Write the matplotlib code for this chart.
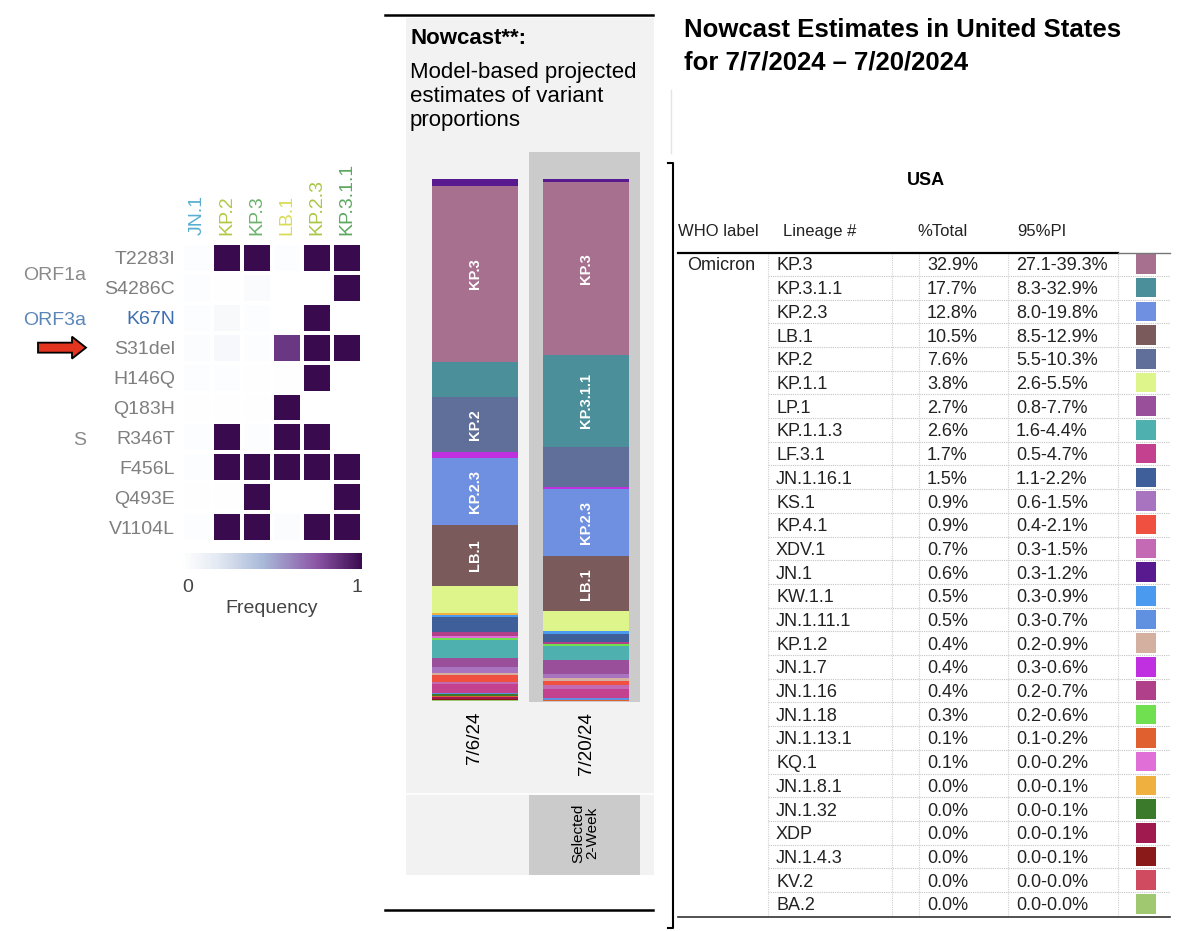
import matplotlib
matplotlib.use('Agg')
import matplotlib.pyplot as plt
import numpy as np
from matplotlib.colors import LinearSegmentedColormap
from matplotlib.patches import Rectangle, FancyArrow
from matplotlib.transforms import IdentityTransform, blended_transform_factory

plt.rcParams['font.family'] = ['Liberation Sans', 'DejaVu Sans']

W, H = 1200, 931

# ---- heatmap data (mutation frequency per lineage)
variants = ["JN.1", "KP.2", "KP.3", "LB.1", "KP.2.3", "KP.3.1.1"]
variant_colors = ["#5aaed0", "#b3c843", "#6bb36b", "#d8dc55", "#a9c745", "#5da860"]
mutations = ["T2283I", "S4286C", "K67N", "S31del", "H146Q",
             "Q183H", "R346T", "F456L", "Q493E", "V1104L"]
mutation_colors = ["#7f7f7f", "#7f7f7f", "#3d6fb0", "#7f7f7f", "#7f7f7f",
                   "#7f7f7f", "#7f7f7f", "#7f7f7f", "#7f7f7f", "#7f7f7f"]
freq = np.array([
    [0.02, 1.00, 1.00, 0.02, 1.00, 1.00],
    [0.02, 0.01, 0.04, 0.00, 0.00, 1.00],
    [0.02, 0.06, 0.02, 0.00, 1.00, 0.00],
    [0.03, 0.07, 0.02, 0.85, 1.00, 1.00],
    [0.02, 0.02, 0.01, 0.01, 1.00, 0.00],
    [0.01, 0.01, 0.01, 1.00, 0.00, 0.00],
    [0.02, 1.00, 0.02, 1.00, 1.00, 0.00],
    [0.02, 1.00, 1.00, 1.00, 1.00, 1.00],
    [0.01, 0.01, 1.00, 0.00, 0.00, 1.00],
    [0.02, 1.00, 1.00, 0.03, 1.00, 1.00],
])
genes = ["ORF1a", "ORF3a", "S"]
gene_first = [0, 2, 3]
gene_last = [1, 2, 9]
gene_colors = ["#8a8a8a", "#5a86b8", "#8a8a8a"]
highlight_mutation = "S31del"

# ---- nowcast table (7/7/2024 - 7/20/2024)
lineages = ["KP.3", "KP.3.1.1", "KP.2.3", "LB.1", "KP.2", "KP.1.1", "LP.1",
            "KP.1.1.3", "LF.3.1", "JN.1.16.1", "KS.1", "KP.4.1", "XDV.1", "JN.1",
            "KW.1.1", "JN.1.11.1", "KP.1.2", "JN.1.7", "JN.1.16", "JN.1.18",
            "JN.1.13.1", "KQ.1", "JN.1.8.1", "JN.1.32", "XDP", "JN.1.4.3", "KV.2", "BA.2"]
pct_total = [32.9, 17.7, 12.8, 10.5, 7.6, 3.8, 2.7, 2.6, 1.7, 1.5, 0.9, 0.9, 0.7, 0.6,
             0.5, 0.5, 0.4, 0.4, 0.4, 0.3, 0.1, 0.1, 0.0, 0.0, 0.0, 0.0, 0.0, 0.0]
pi_low = [27.1, 8.3, 8.0, 8.5, 5.5, 2.6, 0.8, 1.6, 0.5, 1.1, 0.6, 0.4, 0.3, 0.3,
          0.3, 0.3, 0.2, 0.3, 0.2, 0.2, 0.1, 0.0, 0.0, 0.0, 0.0, 0.0, 0.0, 0.0]
pi_high = [39.3, 32.9, 19.8, 12.9, 10.3, 5.5, 7.7, 4.4, 4.7, 2.2, 1.5, 2.1, 1.5, 1.2,
           0.9, 0.7, 0.9, 0.6, 0.7, 0.6, 0.2, 0.2, 0.1, 0.1, 0.1, 0.1, 0.0, 0.0]
lineage_colors = ["#a8708f", "#4a8f99", "#6f8fe0", "#7a5a5a", "#5f6f9a", "#ddf58a",
                  "#9a4f9a", "#4fb0b0", "#c4418f", "#3f5f9a", "#a873bf", "#ef5040",
                  "#c46ab4", "#5a1a8f", "#4a9af0", "#6090e0", "#d4b0a0", "#c030e0",
                  "#b0408a", "#70e050", "#e06030", "#e070d8", "#f0b040", "#3a7a2a",
                  "#a01a50", "#8a1a1a", "#d04a60", "#a0c870"]

# ---- stacked bars: order of segments top -> bottom, 7/6/24 shares estimated
stack_order = ["JN.1", "KP.3", "KP.3.1.1", "KP.2", "JN.1.7", "KP.2.3", "LB.1", "KP.1.1",
               "JN.1.8.1", "KW.1.1", "JN.1.16.1", "JN.1.16", "KQ.1", "JN.1.18",
               "KP.1.1.3", "LP.1", "KS.1", "KP.1.2", "KP.4.1", "XDV.1", "LF.3.1",
               "JN.1.11.1", "JN.1.32", "JN.1.13.1", "XDP", "JN.1.4.3", "KV.2", "BA.2"]
prev_share = [1.3, 33.8, 6.7, 10.5, 1.1, 12.8, 11.7, 5.2,
              0.4, 0.4, 2.9, 0.8, 0.4, 0.4,
              3.3, 1.7, 1.3, 0.3, 1.3, 0.4, 1.7,
              0.3, 0.3, 0.2, 0.4, 0.2, 0.1, 0.1]
dates = ["7/6/24", "7/20/24"]
label_min = 9.0


def px(x0, y0, x1, y1):
    return [x0 / W, 1 - y1 / H, (x1 - x0) / W, (y1 - y0) / H]


fig = plt.figure(figsize=(12, 9.31), dpi=100)

# page-level axes in pixel units (backgrounds, rules, table)
page = fig.add_axes([0, 0, 1, 1])
page.set_xlim(0, W)
page.set_ylim(H, 0)
page.axis('off')

# nowcast panel background
page.add_patch(Rectangle((406, 18), 248, 857, color="#f2f2f2", lw=0))
page.add_patch(Rectangle((529, 152), 111, 550, color="#cbcbcb", lw=0))
page.add_patch(Rectangle((529, 795), 111, 80, color="#cbcbcb", lw=0))
page.plot([406, 654], [794, 794], color="white", lw=1.2)
page.plot([385, 653], [15, 15], color="black", lw=1.8)
page.plot([385, 653], [910, 910], color="black", lw=1.8)
page.text(410, 28, "Nowcast**:", fontsize=16, fontweight='bold', va='top')
page.text(410, 62, "Model-based projected\nestimates of variant\nproportions",
          fontsize=16, va='top', linespacing=1.2)
page.text(585, 833, "Selected\n2-Week", fontsize=11, rotation=90,
          ha='center', va='center', linespacing=1.0, multialignment='center')

# right panel
page.text(684, 18, "Nowcast Estimates in United States\nfor 7/7/2024 \u2013 7/20/2024",
          fontsize=18.5, fontweight='bold', va='top', linespacing=1.45)
page.plot([671, 671], [90, 153], color="#e4e4e4", lw=1)
page.plot([668, 673, 673, 668], [163, 163, 928, 928], color="black", lw=1.5)
page.text(926, 185, "USA", fontsize=13, fontweight='bold', ha='center', va='baseline')
for hx, htxt in zip([678, 783, 917, 1017], ["WHO label", "Lineage #", "%Total", "95%PI"]):
    page.text(hx, 236, htxt, fontsize=12, color="#222222", va='baseline')

row0, row_h = 264, 23.7
rows_y = row0 + np.arange(len(lineages)) * row_h
for yy in rows_y[:-1] + row_h / 2:
    page.plot([768, 1170], [yy, yy], color="#c4c4c4", lw=0.8, ls=(0, (1, 1)))
for xx in [768, 892, 919, 1008, 1118]:
    page.plot([xx, xx], [253, 917], color="#d0d0d0", lw=0.8, ls=(0, (1, 1)))
page.plot([678, 1118], [253, 253], color="black", lw=1.6)
page.plot([1118, 1170], [253, 253], color="#777777", lw=1.0)
page.plot([678, 1170], [917, 917], color="#333333", lw=1.2)

page.text(687, rows_y[0] + 6.5, "Omicron", fontsize=13, color="#222222", va='baseline')
for yy, name, p, lo, hi in zip(rows_y, lineages, pct_total, pi_low, pi_high):
    page.text(776, yy + 6.5, name, fontsize=13, color="#222222", va='baseline')
    page.text(927, yy + 6.5, f"{p:.1f}%", fontsize=13, color="#222222", va='baseline')
    page.text(1016, yy + 6.5, f"{lo:.1f}-{hi:.1f}%", fontsize=13, color="#222222", va='baseline')
page.barh(rows_y, 20, left=1136, height=19.5, color=lineage_colors)

# ---- heatmap
cmap = LinearSegmentedColormap.from_list(
    "freq", [(0, "#ffffff"), (0.2, "#e3e9f2"), (0.45, "#a8b9d9"),
             (0.75, "#8b55a5"), (1, "#3a0a4e")])
ax_h = fig.add_axes(px(182, 243, 362, 542))
mesh = ax_h.pcolormesh(freq, cmap=cmap, vmin=0, vmax=1, edgecolors="white", linewidth=1.5)
ax_h.set_xlim(0, len(variants))
ax_h.set_ylim(len(mutations), 0)
ax_h.set_xticks(np.arange(len(variants)) + 0.5)
ax_h.set_xticklabels(variants, rotation=90, fontsize=14)
ax_h.xaxis.tick_top()
ax_h.set_yticks(np.arange(len(mutations)) + 0.5)
ax_h.set_yticklabels(mutations, fontsize=14)
ax_h.tick_params(length=0, pad=5)
ax_h.tick_params(axis='x', pad=6)
for lab, c in zip(ax_h.get_xticklabels(), variant_colors):
    lab.set_color(c)
for lab, c in zip(ax_h.get_yticklabels(), mutation_colors):
    lab.set_color(c)
for s in ax_h.spines.values():
    s.set_visible(False)
gtrans = blended_transform_factory(ax_h.transAxes, ax_h.transData)
for g, a, b, c in zip(genes, gene_first, gene_last, gene_colors):
    ax_h.text(-0.535, (a + b + 1) / 2 + 0.1, g, transform=gtrans, ha='right',
              va='center', fontsize=14, color=c)

# red arrow pointing at the highlighted mutation
arrow_row = mutations.index(highlight_mutation) + 0.5
ay = ax_h.transData.transform((0, arrow_row))[1]
fig.add_artist(FancyArrow(38, ay, 48, 0, width=10, head_width=22, head_length=14,
                          length_includes_head=True, facecolor="#e2341f",
                          edgecolor="black", lw=1.3, transform=IdentityTransform()))

cax = fig.add_axes(px(182, 553, 362, 569))
cb = fig.colorbar(mesh, cax=cax, orientation='horizontal', ticks=[0.03, 0.97])
cb.set_ticklabels(["0", "1"])
cb.outline.set_visible(False)
cb.ax.tick_params(length=0, labelsize=14, colors="#444444", pad=7)
cb.set_label("Frequency", fontsize=14, color="#444444", labelpad=3)

# ---- stacked bars
ax_b = fig.add_axes(px(406, 179, 654, 701))
ax_b.set_xlim(-0.6216, 1.6126)
ax_b.set_ylim(0, 100)
ax_b.axis('off')
color_of = dict(zip(lineages, lineage_colors))
curr = dict(zip(lineages, pct_total))
series = [np.array(prev_share), np.array([curr[n] for n in stack_order])]
for i, vals in enumerate(series):
    vals = vals / vals.sum() * 100
    bottom = 100.0
    for name, v in zip(stack_order, vals):
        bottom -= v
        ax_b.bar(i, v, bottom=bottom, width=0.775, color=color_of[name], lw=0)
        if v > label_min:
            ax_b.text(i, bottom + v / 2, name, rotation=90, ha='center', va='center',
                      color="white", fontsize=10.5, fontweight='bold')
    ax_b.annotate(dates[i], xy=(i, 0), xytext=(0, -11), textcoords='offset pixels',
                  rotation=90, ha='center', va='top', fontsize=13.5)

fig.savefig("out.png", dpi=100)
